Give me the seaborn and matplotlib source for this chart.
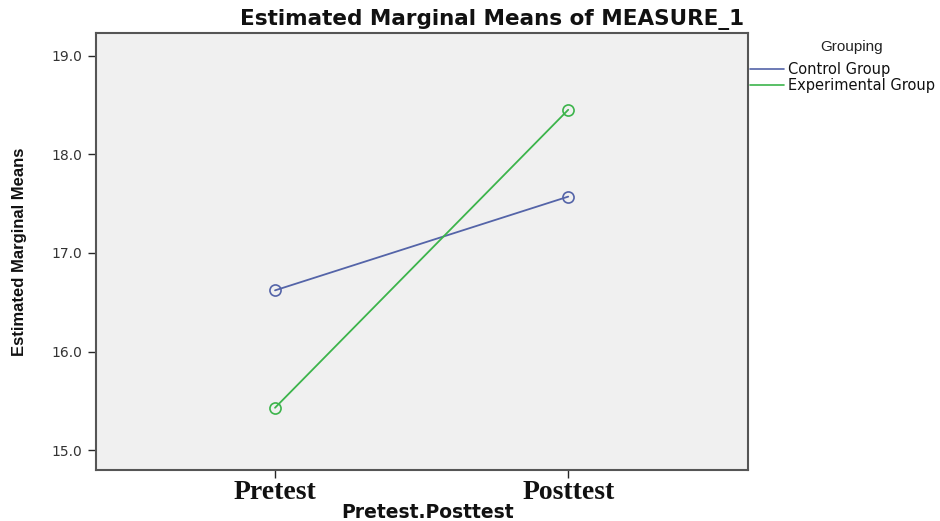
import pandas as pd
import numpy as np
import matplotlib.pyplot as plt
import seaborn as sns

# Data
times = ["Pretest", "Posttest"]
control = [16.62, 17.57]
experimental = [15.43, 18.45]
groups = ["Control Group", "Experimental Group"]
yticks = [15.0, 16.0, 17.0, 18.0, 19.0]

df = pd.DataFrame({
    "Pretest.Posttest": times * 2,
    "pos": [0, 1, 0, 1],
    "Mean": control + experimental,
    "Grouping": [groups[0]] * 2 + [groups[1]] * 2,
})

sns.set_style("white")
plt.rcParams['font.family'] = ['DejaVu Sans']

fig = plt.figure(figsize=(9.4, 5.21), dpi=100)
ax = fig.add_axes([0.102, 0.098, 0.694, 0.839])
ax.set_facecolor("#f0f0f0")

palette = {groups[0]: "#5464a8", groups[1]: "#3cb44b"}
sns.lineplot(data=df, x="pos", y="Mean", hue="Grouping", palette=palette,
             marker="o", markersize=8, markerfacecolor="none",
             linewidth=1.3, ax=ax, legend=False)
# hollow markers, edge in the line colour
for line, g in zip(ax.get_lines(), groups):
    line.set_markeredgecolor(palette[g])
    line.set_markeredgewidth(1.2)

ax.set_xlim(-0.611, 1.614)
ax.set_ylim(14.8, 19.23)
ax.set_xticks([0, 1])
ax.set_xticklabels(times, fontsize=20, fontweight="bold", family="Liberation Serif",
                   color="#111111")
ax.set_yticks(yticks)
ax.set_yticklabels([f"{v:.1f}" for v in yticks], fontsize=10, color="#333333")
ax.tick_params(axis="both", direction="out", length=6, width=1, left=True, bottom=True)
ax.tick_params(axis="x", pad=1)

for s in ax.spines.values():
    s.set_color("#555555")
    s.set_linewidth(1.5)

ax.set_xlabel("Pretest.Posttest", fontsize=13.5, fontweight="bold", color="#111111")
ax.xaxis.set_label_coords((427 - 96) / 652, -(503 - 470) / 437)
ax.set_ylabel("Estimated Marginal Means", fontsize=12, fontweight="bold",
              family="Liberation Sans", color="#111111")
ax.yaxis.set_label_coords(-(96 - 27) / 652, 0.5)
fig.text(492 / 940, 1 - 19 / 521, "Estimated Marginal Means of MEASURE_1",
         fontsize=15.5, fontweight="bold", ha="center", va="center", color="#111111")

# legend outside on right
fig.text(852 / 940, 1 - 47 / 521, "Grouping", fontsize=11, ha="center",
         va="center", color="#222222", family="Liberation Sans")
handles = [plt.Line2D([], [], color=palette[g], linewidth=1.2) for g in groups]
leg = fig.legend(handles, groups, loc="upper left",
                 bbox_to_anchor=(0.798, 1 - 62 / 521), frameon=False, fontsize=10.5,
                 handlelength=2.3, handletextpad=0.3,
                 labelspacing=0.1, borderaxespad=0, borderpad=0)
for t in leg.get_texts():
    t.set_color("#111111")

fig.savefig("out.png", dpi=100)
